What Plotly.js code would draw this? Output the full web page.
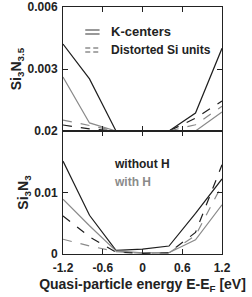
<!DOCTYPE html>
<html><head><meta charset="utf-8">
<script src="https://cdn.plot.ly/plotly-3.0.1.min.js"></script>
<style>html,body{margin:0;padding:0;background:#fff}#c{width:252px;height:297px}</style>
</head><body><div id="c"></div>
<script>
// Quasi-particle energy grid (eV)
const energy = [-1.2, -0.8, -0.4, 0, 0.4, 0.8, 1.2];

// Si3N3.5 panel
const kTopNoH   = [0.00421, 0.00252, 0, 0, 0, 0.00087, 0.0040];
const kTopH     = [0.00261, 0.00039, 0, 0, 0, 0, 0.00092];
const dTopNoH   = [0.00029, 0.0001, 0, 0, 0, 0.00062, 0.00145];
const dTopH     = [0.00053, 0.00025, 0, 0, 0, 0.0003, 0.0012];

// Si3N3 panel
const kBotNoH   = [0.0151, 0.0063, 0.0006, 0.0008, 0.0013, 0.0066, 0.0122];
const kBotH     = [0.0089, 0.0046, 0.0005, 0.0002, 0.0002, 0.0023, 0.0080];
const dBotNoH   = [0.0062, 0.0028, 0.0003, 0.0001, 0.0002, 0.0035, 0.0145];
const dBotH     = [0.0024, 0.0013, 0.0004, 0.0001, 0.0002, 0.0030, 0.0112];

const xTicks = [-1.2, -0.6, 0, 0.6, 1.2];
const xTickText = ['-1.2', '-0.6', '0', '0.6', '1.2'];
const topTicks = [0.003, 0.006];
const topTickText = ['0.003', '0.006'];
const botTicks = [0, 0.01, 0.02];
const botTickText = ['0', '0.01', '0.02'];

const BLACK = '#1e1e1e', GRAY = '#8a8a8a';
const F = 'Liberation Sans, Arial, sans-serif';

function tr(y, color, dash, xa, ya){
  return {x: energy, y: y, mode:'lines', line:{color:color, width:1.2, dash:dash},
          xaxis:xa, yaxis:ya, showlegend:false, hoverinfo:'skip'};
}
const data = [
  tr(kTopNoH, BLACK, 'solid', 'x', 'y'),
  tr(kTopH, GRAY, 'solid', 'x', 'y'),
  tr(dTopNoH, BLACK, 'dash', 'x', 'y'),
  tr(dTopH, GRAY, 'dash', 'x', 'y'),
  tr(kBotNoH, BLACK, 'solid', 'x2', 'y2'),
  tr(kBotH, GRAY, 'solid', 'x2', 'y2'),
  tr(dBotNoH, BLACK, 'dash', 'x2', 'y2'),
  tr(dBotH, GRAY, 'dash', 'x2', 'y2')
];

const ax = {showgrid:false, zeroline:false, showline:true, linecolor:'#222', linewidth:1,
  mirror:'ticks', ticks:'inside', ticklen:5, tickcolor:'#222', tickwidth:1,
  tickfont:{family:F, size:12, color:'#222', weight:'bold'}};

const mid = (254-131)/247;
const titleFont = {family:F, size:14, color:'#222', weight:'bold'};
const layout = {
  width:252, height:297, margin:{l:63, r:30, t:7, b:43},
  paper_bgcolor:'#fff', plot_bgcolor:'#fff',
  xaxis: Object.assign({}, ax, {domain:[0,1], range:[-1.2,1.2], anchor:'y',
      tickvals:xTicks, showticklabels:false}),
  yaxis: Object.assign({}, ax, {domain:[mid,1], range:[0,0.006], anchor:'x',
      tickvals:topTicks, ticktext:topTickText, ticklabelstandoff:2,
      title:{text:'Si<sub>3</sub>N<sub>3.5</sub>', font:titleFont, standoff:2}}),
  xaxis2: Object.assign({}, ax, {domain:[0,1], range:[-1.2,1.2], anchor:'y2',
      tickvals:xTicks, ticktext:xTickText, ticklabelstandoff:3,
      title:{text:'Quasi-particle energy E-E<sub>F</sub> [eV]', font:titleFont, standoff:4}}),
  yaxis2: Object.assign({}, ax, {domain:[0,mid], range:[0,0.02], anchor:'x2',
      tickvals:botTicks, ticktext:botTickText, ticklabelstandoff:2,
      title:{text:'Si<sub>3</sub>N<sub>3</sub>', font:titleFont, standoff:2}}),
  shapes:[
    {type:'line', xref:'paper', yref:'paper', x0:0.14, x1:0.23, y0:1-(30-7)/247, y1:1-(30-7)/247, line:{color:'#555', width:1.2}},
    {type:'line', xref:'paper', yref:'paper', x0:0.14, x1:0.23, y0:1-(34-7)/247, y1:1-(34-7)/247, line:{color:'#555', width:1.2}},
    {type:'line', xref:'paper', yref:'paper', x0:0.14, x1:0.23, y0:1-(48-7)/247, y1:1-(48-7)/247, line:{color:'#555', width:1.2, dash:'5px,3px'}},
    {type:'line', xref:'paper', yref:'paper', x0:0.14, x1:0.23, y0:1-(52-7)/247, y1:1-(52-7)/247, line:{color:'#555', width:1.2, dash:'5px,3px'}}
  ],
  annotations:[
    {text:'K-centers', xref:'paper', yref:'paper', x:(109-63)/159, y:1-(32-7)/247, xanchor:'left', yanchor:'middle', showarrow:false, font:{family:F, size:13, color:'#222', weight:'bold'}},
    {text:'Distorted Si units', xref:'paper', yref:'paper', x:(109-63)/159, y:1-(50-7)/247, xanchor:'left', yanchor:'middle', showarrow:false, font:{family:F, size:12, color:'#222', weight:'bold'}},
    {text:'without H', xref:'paper', yref:'paper', x:(112-63)/159, y:1-(164-7)/247, xanchor:'left', yanchor:'middle', showarrow:false, font:{family:F, size:12, color:'#222', weight:'bold'}},
    {text:'with H', xref:'paper', yref:'paper', x:(112-63)/159, y:1-(182-7)/247, xanchor:'left', yanchor:'middle', showarrow:false, font:{family:F, size:12, color:GRAY, weight:'bold'}}
  ]
};
Plotly.newPlot('c', data, layout, {staticPlot:true, displayModeBar:false});
</script></body></html>
